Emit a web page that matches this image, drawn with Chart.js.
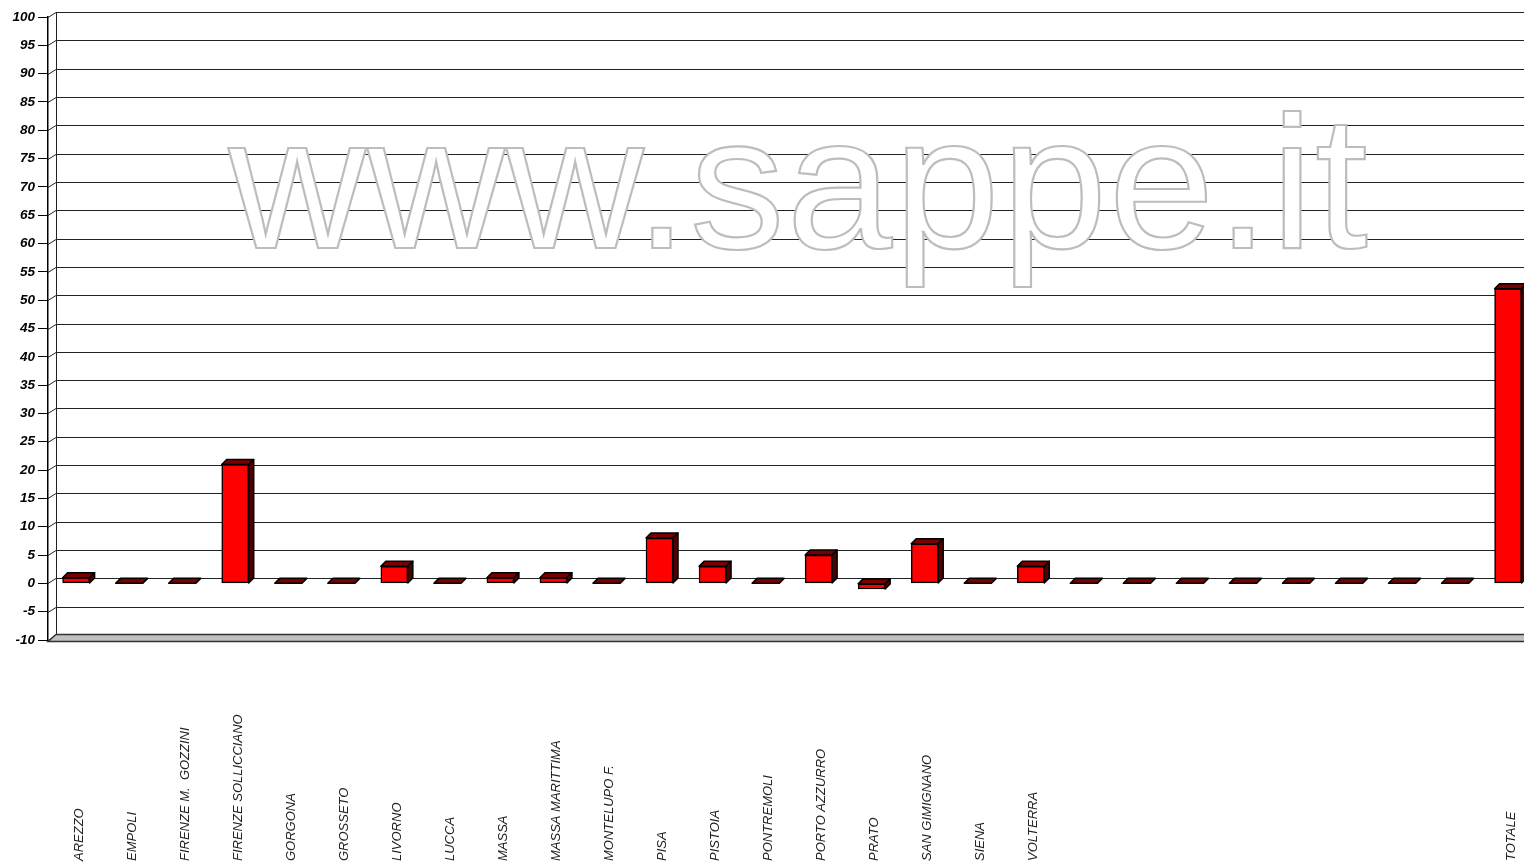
<!DOCTYPE html>
<html>
<head>
<meta charset="utf-8">
<script src="https://cdn.jsdelivr.net/npm/chart.js@4/dist/chart.umd.min.js"></script>
<style>
  html, body { margin: 0; padding: 0; background: #fff; overflow: hidden; }
</style>
</head>
<body>
<canvas id="istituti" width="1524" height="868"></canvas>
<script>
// istituti della Toscana
var categories = ['AREZZO', 'EMPOLI', 'FIRENZE M.  GOZZINI', 'FIRENZE SOLLICCIANO', 'GORGONA',
    'GROSSETO', 'LIVORNO', 'LUCCA', 'MASSA', 'MASSA MARITTIMA', 'MONTELUPO F.', 'PISA',
    'PISTOIA', 'PONTREMOLI', 'PORTO AZZURRO', 'PRATO', 'SAN GIMIGNANO', 'SIENA', 'VOLTERRA',
    '', '', '', '', '', '', '', '', 'TOTALE'];
var values = [1, 0, 0, 21, 0, 0, 3, 0, 1, 1, 0, 8, 3, 0, 5, -1, 7, 0, 3, 0, 0, 0, 0, 0, 0, 0, 0, 52];
var yTicks = { min: -10, max: 100, step: 5 };

var WALL_DX = 8, WALL_DY = 5;   // offset of the back wall
var BAR_DX = 5, BAR_DY = 5;     // depth of the bars

var points = values.map(function (v, i) { return { x: i, y: v }; });

var wallPlugin = {
    id: 'wall',
    beforeDatasetsDraw: function (chart) {
        var ctx = chart.ctx, a = chart.chartArea, y = chart.scales.y;
        var bx = a.left + WALL_DX;
        ctx.save();
        ctx.strokeStyle = '#222';
        ctx.lineWidth = 1;
        // gridlines on the back wall + diagonals to the front ticks
        for (var v = yTicks.min; v <= yTicks.max; v += yTicks.step) {
            var py = Math.round(y.getPixelForValue(v)) + 0.5;
            ctx.beginPath();
            ctx.moveTo(a.left, py);
            ctx.lineTo(bx, py - WALL_DY);
            if (v > yTicks.min) ctx.lineTo(chart.width, py - WALL_DY);
            ctx.stroke();
        }
        // back wall vertical
        ctx.beginPath();
        ctx.moveTo(bx + 0.5, a.top - WALL_DY);
        ctx.lineTo(bx + 0.5, a.bottom - WALL_DY);
        ctx.stroke();
        // floor
        ctx.beginPath();
        ctx.moveTo(a.left, a.bottom + 1.5);
        ctx.lineTo(bx, a.bottom - WALL_DY - 0.5);
        ctx.lineTo(chart.width + 2, a.bottom - WALL_DY - 0.5);
        ctx.lineTo(chart.width + 2, a.bottom + 1.5);
        ctx.closePath();
        ctx.fillStyle = '#c0c0c0';
        ctx.fill();
        ctx.lineWidth = 1.5;
        ctx.strokeStyle = '#333';
        ctx.stroke();

        // watermark
        ctx.font = '190px "Liberation Sans", Arial, sans-serif';
        ctx.letterSpacing = '1.8px';
        ctx.textAlign = 'center';
        ctx.textBaseline = 'alphabetic';
        ctx.lineWidth = 2.2;
        ctx.strokeStyle = '#bdbdbd';
        ctx.fillStyle = '#fff';
        ctx.fillText('www.sappe.it', 799, 248);
        ctx.strokeText('www.sappe.it', 799, 248);
        ctx.restore();
    },
    afterDatasetsDraw: function (chart) {
        var ctx = chart.ctx;
        var meta = chart.getDatasetMeta(0);
        ctx.save();
        ctx.strokeStyle = '#000';
        ctx.lineWidth = 1.5;
        ctx.lineJoin = 'round';
        meta.data.forEach(function (bar) {
            var p = bar.getProps(['x', 'y', 'base', 'width'], true);
            var l = p.x - p.width / 2, r = p.x + p.width / 2;
            var t = Math.min(p.y, p.base), b = Math.max(p.y, p.base);
            // top face
            ctx.beginPath();
            ctx.moveTo(l, t);
            ctx.lineTo(l + BAR_DX, t - BAR_DY);
            ctx.lineTo(r + BAR_DX, t - BAR_DY);
            ctx.lineTo(r, t);
            ctx.closePath();
            ctx.fillStyle = '#7a0000';
            ctx.fill();
            ctx.stroke();
            // side face
            if (b - t > 0.5) {
                ctx.beginPath();
                ctx.moveTo(r, t);
                ctx.lineTo(r + BAR_DX, t - BAR_DY);
                ctx.lineTo(r + BAR_DX, b - BAR_DY);
                ctx.lineTo(r, b);
                ctx.closePath();
                ctx.fillStyle = '#500000';
                ctx.fill();
                ctx.stroke();
            }
        });

        // category labels, rotated, reading upward from the bottom
        var xs = chart.scales.x;
        ctx.font = 'italic 13px "Liberation Sans", Arial, sans-serif';
        ctx.fillStyle = '#222';
        ctx.textAlign = 'left';
        ctx.textBaseline = 'middle';
        categories.forEach(function (c, i) {
            if (!c) return;
            ctx.save();
            ctx.translate(xs.getPixelForValue(i) + 3, 861);
            ctx.rotate(-Math.PI / 2);
            ctx.fillText(c, 0, 0);
            ctx.restore();
        });
        ctx.restore();
    }
};

new Chart(document.getElementById('istituti'), {
    type: 'bar',
    data: {
        datasets: [{
            data: points,
            backgroundColor: '#ff0000',
            borderColor: '#000',
            borderWidth: 1.5,
            borderSkipped: false,
            barThickness: 27
        }]
    },
    options: {
        responsive: false,
        animation: false,
        layout: { padding: { top: 17, bottom: 228, left: 0, right: 0 } },
        plugins: { legend: { display: false }, tooltip: { enabled: false } },
        scales: {
            x: {
                type: 'linear',
                display: false,
                offset: false,
                min: -0.53,
                max: 27.3
            },
            y: {
                min: yTicks.min,
                max: yTicks.max,
                afterFit: function (s) { s.width = 48; },
                border: { display: true, color: '#000', width: 1.5 },
                grid: { drawOnChartArea: false, drawTicks: true, tickLength: 10, color: '#000' },
                ticks: {
                    stepSize: yTicks.step,
                    padding: 3,
                    color: '#000',
                    font: { family: '"Liberation Sans", Arial, sans-serif', size: 13.5, style: 'italic', weight: 'bold' }
                }
            }
        }
    },
    plugins: [wallPlugin]
});
</script>
</body>
</html>
